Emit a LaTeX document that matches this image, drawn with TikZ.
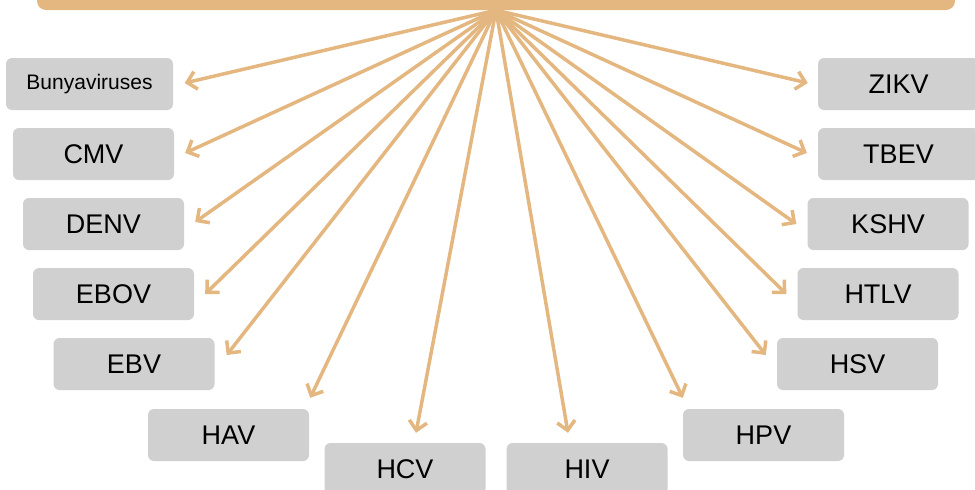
\documentclass[tikz,border=0pt]{standalone}
\usepackage{fontspec}
\setmainfont{Liberation Sans}
\usepackage{tikz}
\usetikzlibrary{arrows.meta,positioning}
\definecolor{tan}{RGB}{228,183,128}
\definecolor{boxgray}{RGB}{208,208,208}

\begin{document}
\begin{tikzpicture}[x=1pt, y=-1pt,
  virus/.style={fill=boxgray, rounded corners=6pt, inner sep=0pt,
    minimum width=161pt, minimum height=52pt,
    font=\fontsize{27}{30}\selectfont},
  hubbar/.style={fill=tan, rounded corners=9pt, inner sep=0pt,
    minimum width=918pt, minimum height=36pt},
  spoke/.style={draw=tan, line width=3.5pt, line cap=round,
    -{Straight Barb[length=9pt, width=18pt, line width=3.5pt]}}]

\clip (0,0) rectangle (975,490);

% ---- Source bar (cut off at the top) ----
\node[hubbar] (hub) at (496,-8) {};

% ---- Left column ----
\node[virus, minimum width=167pt, font=\fontsize{21}{24}\selectfont]
  (bunya) at (89.5,84) {Bunyaviruses};
\node[virus] (cmv)  at (93.5,154) {CMV};
\node[virus] (denv) at (103.5,224) {DENV};
\node[virus] (ebov) at (113.5,294) {EBOV};
\node[virus] (ebv)  at (134,364) {EBV};
\node[virus] (hav)  at (228.5,435) {HAV};

% ---- Bottom ----
\node[virus] (hcv) at (405,469) {HCV};
\node[virus] (hiv) at (587,469) {HIV};

% ---- Right column ----
\node[virus] (hpv)  at (763.5,435) {HPV};
\node[virus] (hsv)  at (857.5,364) {HSV};
\node[virus] (htlv) at (878,294) {HTLV};
\node[virus] (kshv) at (888,224) {KSHV};
\node[virus] (tbev) at (898.5,154) {TBEV};
\node[virus] (zikv) at (898.5,84) {ZIKV};

% ---- Spokes from the bar ----
\draw[spoke] (hub.south) -- ([xshift=11.5pt, yshift=1pt]bunya.east);
\draw[spoke] (hub.south) -- ([xshift=11pt, yshift=1pt]cmv.east);
\draw[spoke] (hub.south) -- ([xshift=11pt, yshift=2pt]denv.east);
\draw[spoke] (hub.south) -- ([xshift=11pt]ebov.east);
\draw[spoke] (hub.south) -- ([xshift=12pt, yshift=9pt]ebv.east);
\draw[spoke] (hub.south) -- ([xshift=1pt, yshift=11pt]hav.north east);
\draw[spoke] (hub.south) -- ([xshift=11pt, yshift=10pt]hcv.north);
\draw[spoke] (hub.south) -- ([xshift=-19pt, yshift=10pt]hiv.north);
\draw[spoke] (hub.south) -- ([yshift=11pt]hpv.north west);
\draw[spoke] (hub.south) -- ([xshift=-11pt, yshift=9pt]hsv.west);
\draw[spoke] (hub.south) -- ([xshift=-11pt]htlv.west);
\draw[spoke] (hub.south) -- ([xshift=-11pt]kshv.west);
\draw[spoke] (hub.south) -- ([xshift=-11pt, yshift=1pt]tbev.west);
\draw[spoke] (hub.south) -- ([xshift=-10pt, yshift=1pt]zikv.west);

\end{tikzpicture}
\end{document}
